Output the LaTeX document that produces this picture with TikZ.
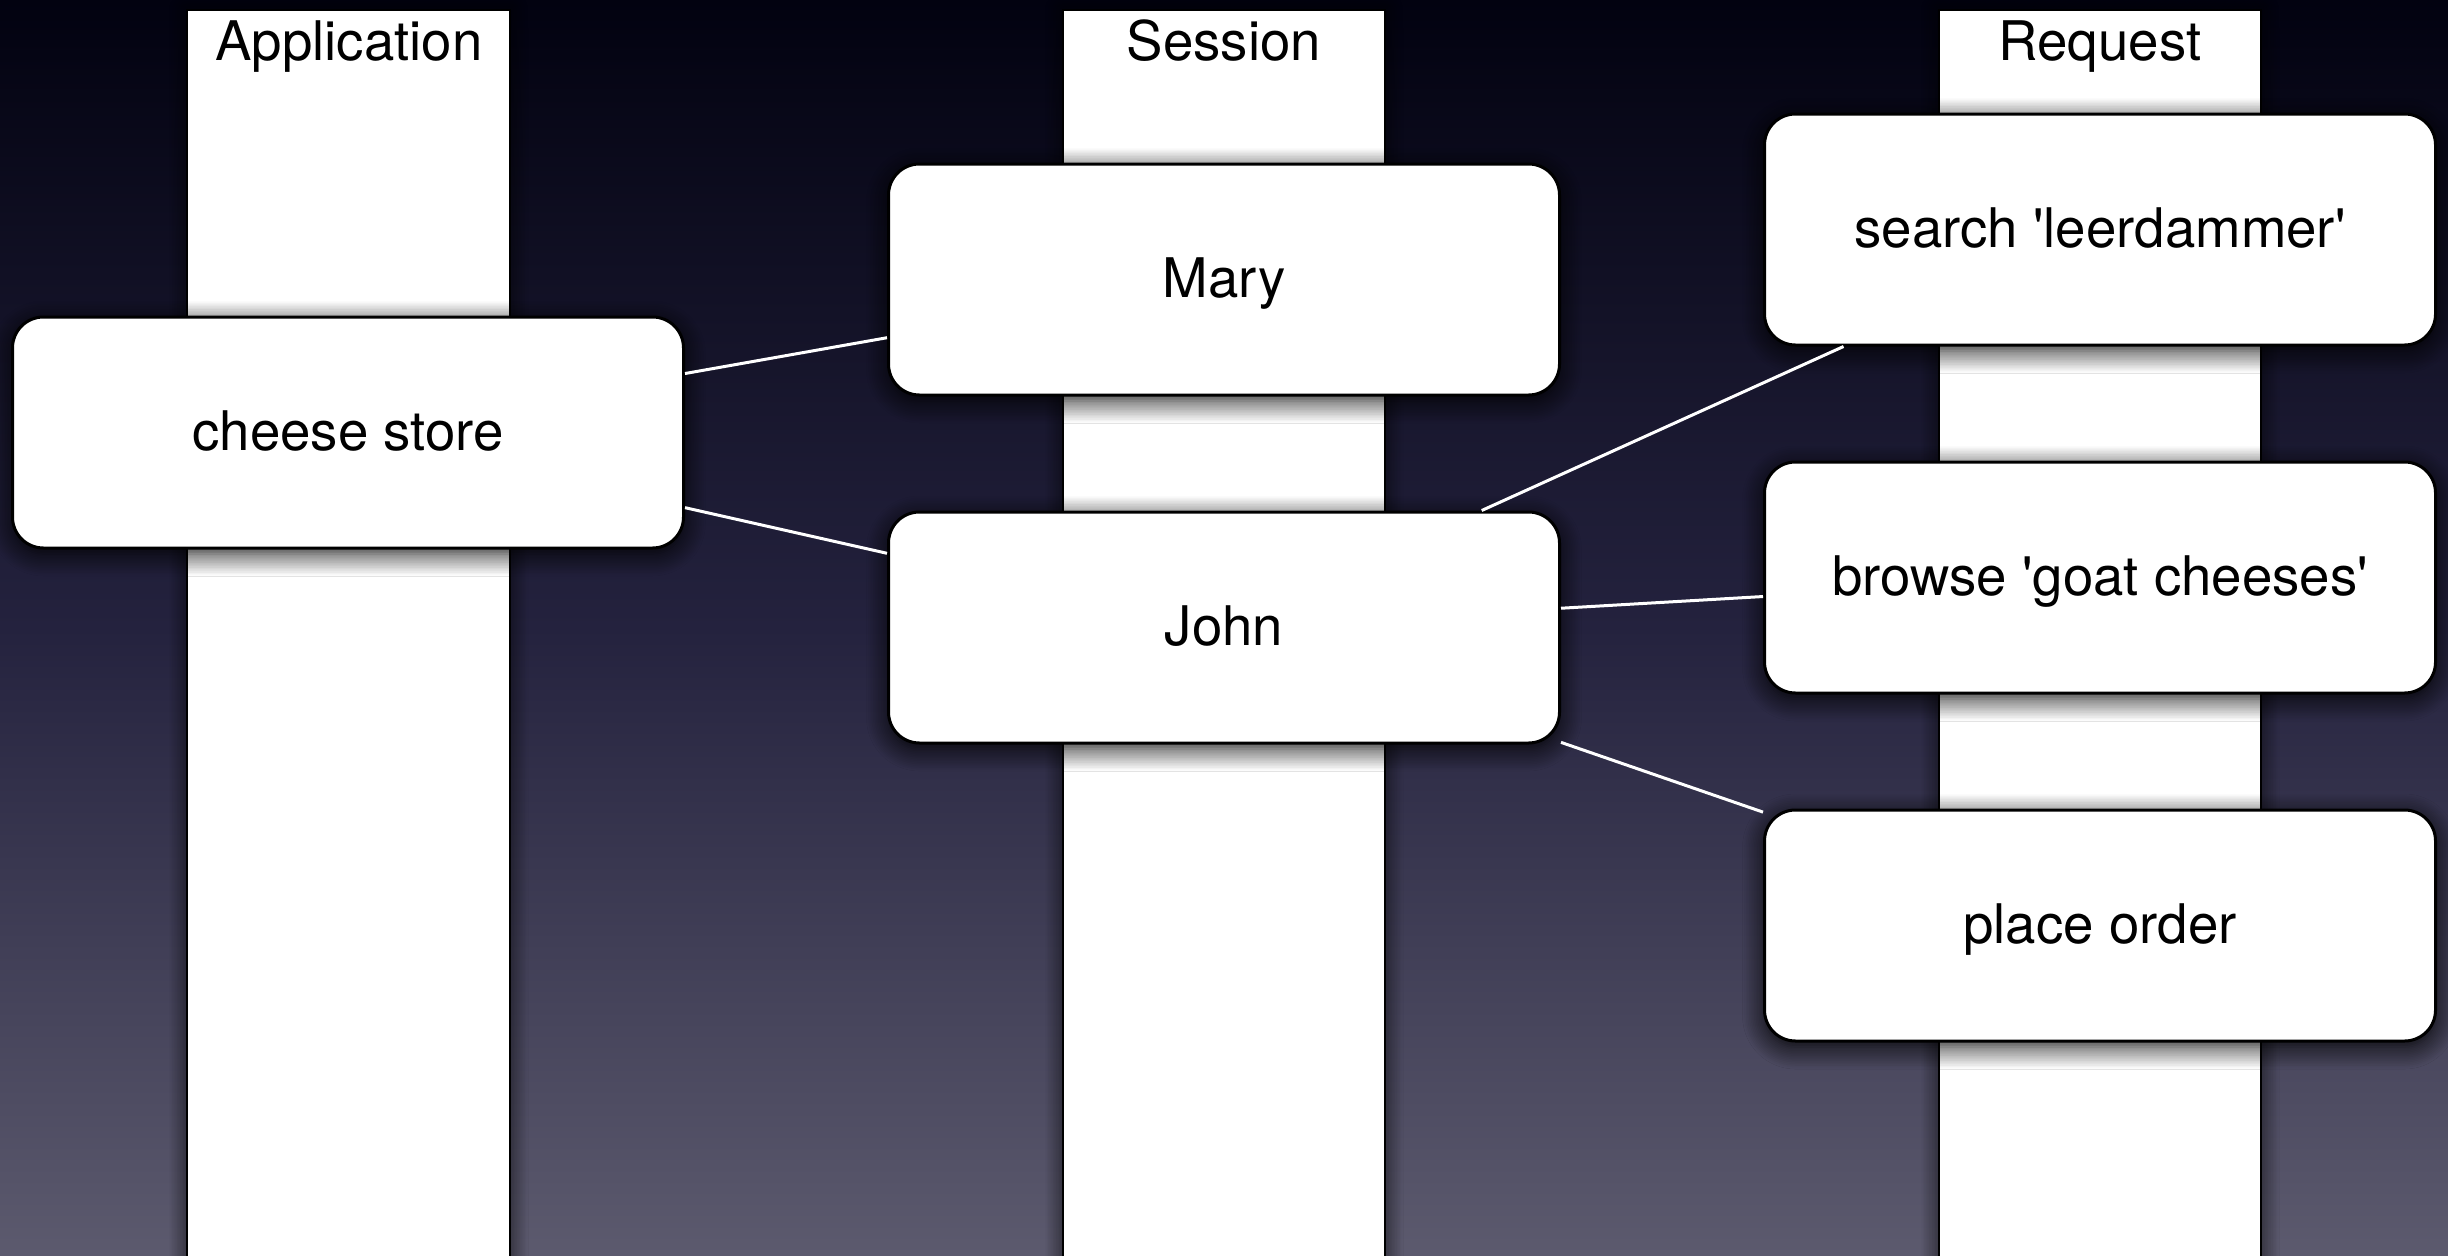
\documentclass[tikz,border=0pt]{standalone}
\usepackage{fontspec}
\setmainfont{TeX Gyre Heros}
\usetikzlibrary{shadows.blur}
\definecolor{bgtop}{RGB}{2,2,16}
\definecolor{bgmid}{RGB}{36,34,62}
\definecolor{bgbot}{RGB}{92,90,110}
\tikzset{
  lane/.style={fill=white, draw=black, line width=2pt,
    blur shadow={shadow xshift=0pt, shadow yshift=0pt, shadow blur radius=18pt, shadow opacity=80, shadow blur steps=12}},
  box/.style={rectangle, rounded corners=31pt, fill=white, draw=black, line width=3pt,
    minimum width=671pt, minimum height=231pt, text height=48pt, text depth=12pt,
    font=\fontsize{54.6}{60}\selectfont,
    blur shadow={shadow xshift=0pt, shadow yshift=-6pt, shadow blur radius=22pt, shadow opacity=95, shadow blur steps=14}},
  lanelabel/.style={font=\fontsize{54.6}{60}\selectfont, anchor=base, inner sep=0pt},
  link/.style={draw=white, line width=3pt},
}
\begin{document}
\begin{tikzpicture}[x=1pt,y=-1pt]
\useasboundingbox (0,0) rectangle (2448,1255);
\clip (0,0) rectangle (2448,1255);
% background
\shade[top color=bgtop, bottom color=bgbot, middle color=bgmid] (0,0) rectangle (2448,1255);
% lanes
\path[lane] (187,10) rectangle (510,1300);
\path[lane] (1063,10) rectangle (1385,1300);
\path[lane] (1939,10) rectangle (2261,1300);
\node[lanelabel] (hApp) at (349,60) {Application};
\node[lanelabel] (hSes) at (1224,60) {Session};
\node[lanelabel] (hReq) at (2100,60) {Request};
% boxes
\node[box] (cheese) at (348,432.5) {cheese store};
\node[box] (mary) at (1224,279.5) {Mary};
\node[box] (john) at (1224,627.5) {John};
\node[box] (search) at (2100,229.5) {search \textquotesingle leerdammer\textquotesingle};
\node[box] (browse) at (2100,577.5) {browse \textquotesingle goat cheeses\textquotesingle};
\node[box] (order) at (2100,925.5) {place order};
% connectors
\draw[link] (cheese) -- (mary);
\draw[link] (cheese) -- (john);
\draw[link] (john) -- (search);
\draw[link] (john) -- (browse);
\draw[link] (john) -- (order);
\end{tikzpicture}
\end{document}
